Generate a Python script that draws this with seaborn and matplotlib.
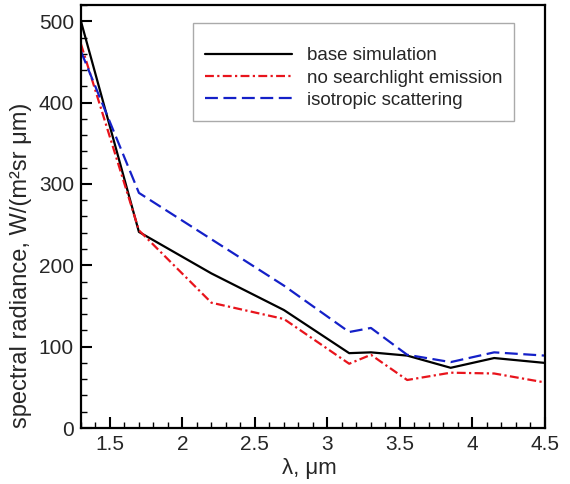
import matplotlib
matplotlib.use("Agg")
import matplotlib.pyplot as plt
import numpy as np
import pandas as pd
import seaborn as sns
from matplotlib.ticker import MultipleLocator

# wavelengths, um
wavelength = [1.3, 1.7, 2.2, 2.7, 3.15, 3.3, 3.55, 3.85, 4.15, 4.5]
base_sim = [500, 241, 190, 145, 92, 93, 89, 74, 86, 80]
no_searchlight = [472, 243, 154, 134, 79, 90, 59, 68, 67, 56]
isotropic = [463, 289, 232, 175, 118, 123, 90, 81, 93, 89]
labels = ["base simulation", "no searchlight emission", "isotropic scattering"]
xtick_labels = ["1.5", "2", "2.5", "3", "3.5", "4", "4.5"]

df = pd.concat([
    pd.DataFrame({"wl": wavelength, "rad": vals, "case": lab})
    for lab, vals in zip(labels, [base_sim, no_searchlight, isotropic])
])

sns.set_style("ticks")
plt.rcParams["font.family"] = ["Liberation Sans", "DejaVu Sans"]

fig = plt.figure(figsize=(5.7, 4.84), dpi=100)
ax = fig.add_axes([0.142, 0.1157, 0.814, 0.874])

palette = {labels[0]: "black", labels[1]: "#e8141c", labels[2]: "#1420c8"}
dashes = {labels[0]: "", labels[1]: (4.0, 1.5, 1.0, 1.5), labels[2]: (5.8, 2.5)}
sns.lineplot(data=df, x="wl", y="rad", hue="case", style="case",
             palette=palette, dashes=dashes, linewidth=1.6, ax=ax,
             sort=False)

ax.set_xlim(1.3, 4.5)
ax.set_ylim(0, 520)
ax.xaxis.set_minor_locator(MultipleLocator(0.1))
ax.yaxis.set_major_locator(MultipleLocator(100))
ax.yaxis.set_minor_locator(MultipleLocator(20))
ax.set_xticks([float(t) for t in xtick_labels])
ax.set_xticklabels(xtick_labels)
ax.tick_params(which="both", direction="in", top=False, right=False,
               labelsize=15, width=1.5, color="black", pad=5)
ax.tick_params(which="major", length=8)
ax.tick_params(which="minor", length=4, width=1)
for s in ax.spines.values():
    s.set_linewidth(1.6)
    s.set_color("black")

ax.set_xlabel("λ, μm", fontsize=16)
ax.xaxis.set_label_coords(0.493, -0.07)
ax.set_ylabel("spectral radiance, W/(m²sr μm)", fontsize=17)
ax.yaxis.set_label_coords(-0.105, 0.385)

# tiny blank title just pushes the entries down a bit, like the original box
leg = ax.legend(loc="upper left", bbox_to_anchor=(0.241, 0.957),
                fontsize=13.5, handlelength=4.64, handletextpad=0.8,
                borderpad=0.64, labelspacing=0.27, fancybox=False,
                framealpha=1, edgecolor="#aaaaaa", borderaxespad=0,
                title=" ", title_fontsize=5)
leg.get_frame().set_linewidth(1.0)

fig.savefig("out.png", dpi=100)
